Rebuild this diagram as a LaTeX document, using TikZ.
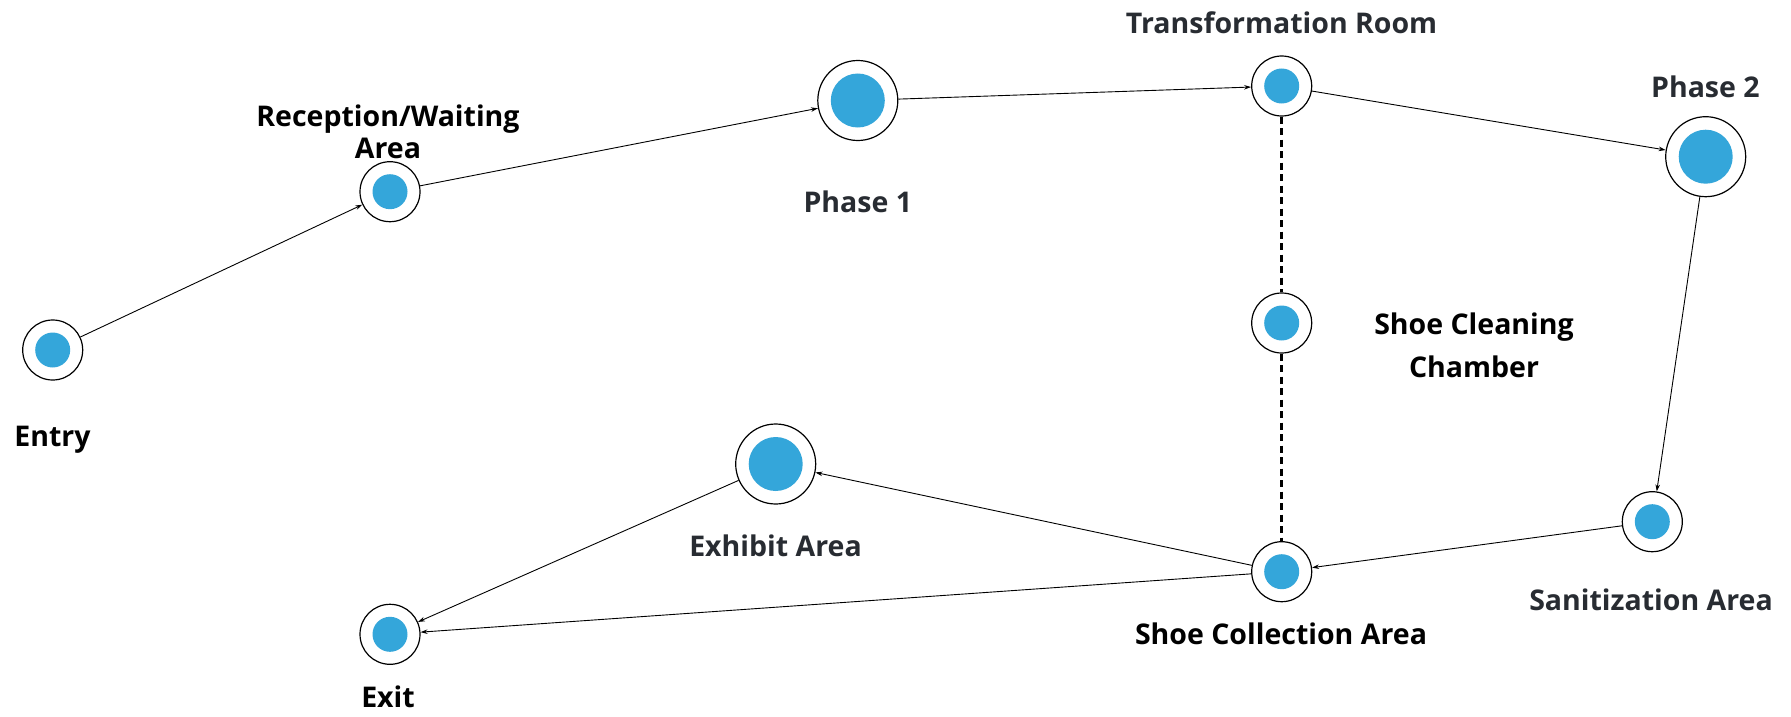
\documentclass[tikz,border=0pt]{standalone}
\usepackage{fontspec}
\setmainfont[Ligatures={NoCommon}]{Open Sans}
\usetikzlibrary{arrows.meta}
\definecolor{dotblue}{RGB}{52,166,218}
\definecolor{labelgrey}{RGB}{40,44,50}
\begin{document}
\begin{tikzpicture}[x=1pt,y=-1pt,
  spot/.style={circle,draw=black,line width=1.2pt,fill=white,minimum size=60pt,inner sep=0pt,
    path picture={\fill[dotblue] (path picture bounding box.center) circle (17.5pt);}},
  bigspot/.style={circle,draw=black,line width=1.2pt,fill=white,minimum size=80pt,inner sep=0pt,
    path picture={\fill[dotblue] (path picture bounding box.center) circle (27pt);}},
  lbl/.style={font=\fontsize{28.5}{32}\selectfont\bfseries,text=black,align=center,inner sep=0pt},
  glbl/.style={lbl,text=labelgrey},
  flow/.style={line width=0.9pt,-{Stealth[length=7pt,width=4.5pt]}},
  link/.style={line width=2.6pt,dash pattern=on 7pt off 4.5pt}]
\useasboundingbox[fill=white] (0,0) rectangle (1791,717);

% stations
\node[spot]    (entry)  at (52.7,350)   {};
\node[spot]    (recep)  at (390,191.7)  {};
\node[bigspot] (ph1)    at (857.8,100.5){};
\node[spot]    (trans)  at (1281.7,86)  {};
\node[bigspot] (ph2)    at (1705.7,156.7){};
\node[spot]    (clean)  at (1281.7,323) {};
\node[spot]    (sanit)  at (1652.3,521.7){};
\node[spot]    (collect) at (1281.7,571.7){};
\node[bigspot] (exhib)  at (775.7,464)  {};
\node[spot]    (exit)   at (390,634.3)  {};

% labels
\node[lbl]  (tEntry) at (52.5,440)   {Entry};
\node[lbl]  (tRecep) at (388,132)    {Reception/Waiting\\Area};
\node[glbl] (tPh1)   at (857.8,202)  {Phase 1};
\node[glbl] (tTrans) at (1281.6,23)  {Transformation Room};
\node[glbl] (tPh2)   at (1705.4,87)  {Phase 2};
\node[lbl,font=\fontsize{28.5}{43}\selectfont\bfseries] (tClean) at (1474,345) {Shoe Cleaning\\Chamber};
\node[glbl] (tExhib) at (775.5,546)  {Exhibit Area};
\node[lbl]  (tColl)  at (1281,634)   {Shoe Collection Area};
\node[glbl] (tSanit) at (1651,599.6) {Sanitization Area};
\node[lbl]  (tExit)  at (388,697)    {Exit};

% walking route
\draw[flow] (entry) -- (recep);
\draw[flow] (recep) -- (ph1);
\draw[flow] (ph1) -- (trans);
\draw[flow] (trans) -- (ph2);
\draw[flow] (ph2) -- (sanit);
\draw[flow] (sanit) -- (collect);
\draw[flow] (collect) -- (exhib);
\draw[flow] (exhib) -- (exit);
\draw[flow] (collect) -- (exit);

% shoe handling line
\draw[link] (trans) -- (clean);
\draw[link] (clean) -- (collect);
\end{tikzpicture}
\end{document}
